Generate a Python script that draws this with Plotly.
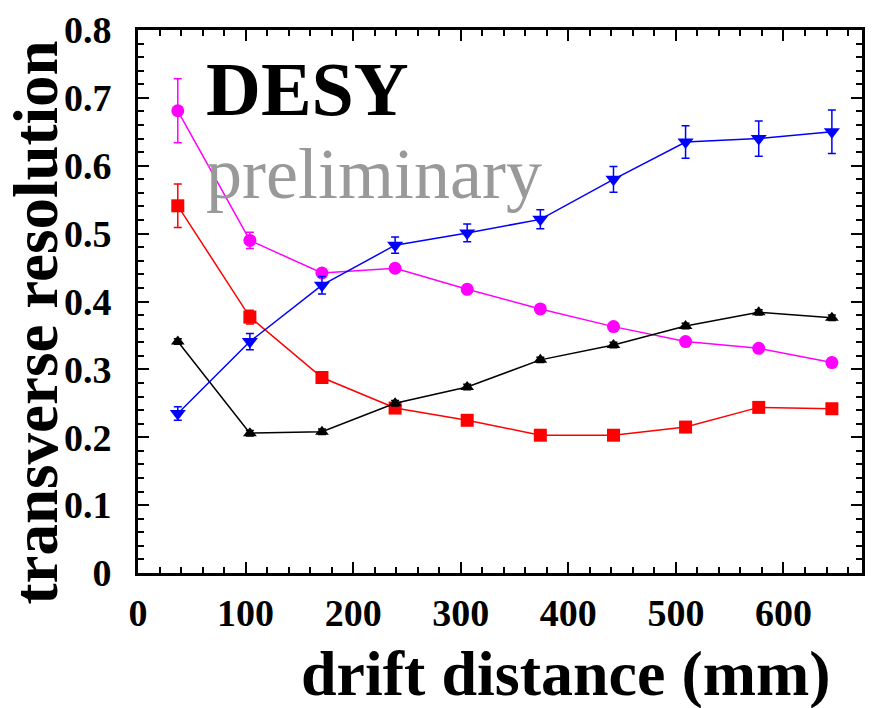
import plotly.graph_objects as go

# ---- data ----
drift_mm = [37, 104, 171, 239, 306, 374, 442, 509, 577, 645]

red_res = [0.541, 0.377, 0.288, 0.243, 0.225, 0.203, 0.203, 0.215, 0.244, 0.242]
red_err = [0.032, 0.010, 0.005, 0.005, 0.005, 0.005, 0.005, 0.005, 0.005, 0.005]

magenta_res = [0.681, 0.490, 0.442, 0.449, 0.418, 0.389, 0.363, 0.341, 0.331, 0.310]
magenta_err = [0.047, 0.012, 0.006, 0.006, 0.006, 0.005, 0.005, 0.005, 0.005, 0.005]

black_res = [0.341, 0.206, 0.208, 0.250, 0.274, 0.314, 0.336, 0.364, 0.384, 0.376]
black_err = [0.004] * 10

blue_res = [0.235, 0.341, 0.424, 0.483, 0.501, 0.521, 0.580, 0.635, 0.640, 0.650]
blue_err = [0.010, 0.012, 0.013, 0.012, 0.013, 0.014, 0.019, 0.024, 0.026, 0.032]

series = [
    ("red", red_res, red_err, "#ff0000", "square", 13),
    ("magenta", magenta_res, magenta_err, "#ff00ff", "circle", 13),
    ("black", black_res, black_err, "#000000", "triangle-up", 12),
    ("blue", blue_res, blue_err, "#0000ff", "triangle-down", 14),
]

W, H = 872, 708
L, R, T, B = 138, 7, 30, 135
pw, ph = W - L - R, H - T - B


def px_x(p):
    return (p - L) / pw


def px_y(p):
    return (H - B - p) / ph


fig = go.Figure()
for name, ys, es, col, sym, sz in series:
    fig.add_trace(go.Scatter(
        x=drift_mm, y=ys, name=name, mode="lines+markers",
        line=dict(color=col, width=1.5),
        marker=dict(symbol=sym, size=sz, color=col, line=dict(width=0)),
        error_y=dict(type="data", array=es, color=col, thickness=1.5, width=4),
    ))

serif = "Liberation Serif, Times New Roman, serif"
axis_common = dict(
    showline=True, linewidth=3, linecolor="black", mirror="ticks",
    ticks="inside", tickwidth=2, tickcolor="black",
    showgrid=False, zeroline=False,
    tickfont=dict(family=serif, size=38, color="black", weight="bold"),
)

fig.update_layout(
    width=W, height=H,
    margin=dict(l=L, r=R, t=T, b=B),
    paper_bgcolor="white", plot_bgcolor="white",
    showlegend=False,
    xaxis=dict(range=[0, 673], tick0=0, dtick=100, ticklen=11,
               minor=dict(ticks="inside", ticklen=6, dtick=20, tickwidth=2, tickcolor="black"),
               ticklabelstandoff=4, **axis_common),
    yaxis=dict(range=[0, 0.8], tick0=0, dtick=0.1, ticklen=11,
               minor=dict(ticks="inside", ticklen=6, dtick=0.02, tickwidth=2, tickcolor="black"),
               ticklabelstandoff=16, **axis_common),
    annotations=[
        dict(text="DESY", xref="paper", yref="paper", x=px_x(204), y=px_y(89),
             xanchor="left", yanchor="middle", showarrow=False,
             font=dict(family=serif, size=76, color="black", weight="bold")),
        dict(text="preliminary", xref="paper", yref="paper", x=px_x(204), y=px_y(174),
             xanchor="left", yanchor="middle", showarrow=False,
             font=dict(family=serif, size=72, color="#999999")),
        dict(text="drift distance (mm)", xref="paper", yref="paper", x=px_x(836), y=px_y(673),
             xanchor="right", yanchor="middle", showarrow=False,
             font=dict(family=serif, size=64, color="black", weight="bold")),
        dict(text="transverse resolution", xref="paper", yref="paper", x=px_x(36), y=px_y(322),
             xanchor="center", yanchor="middle", textangle=-90, showarrow=False,
             font=dict(family=serif, size=63, color="black", weight="bold")),
    ],
)

fig.write_html("out.html")
